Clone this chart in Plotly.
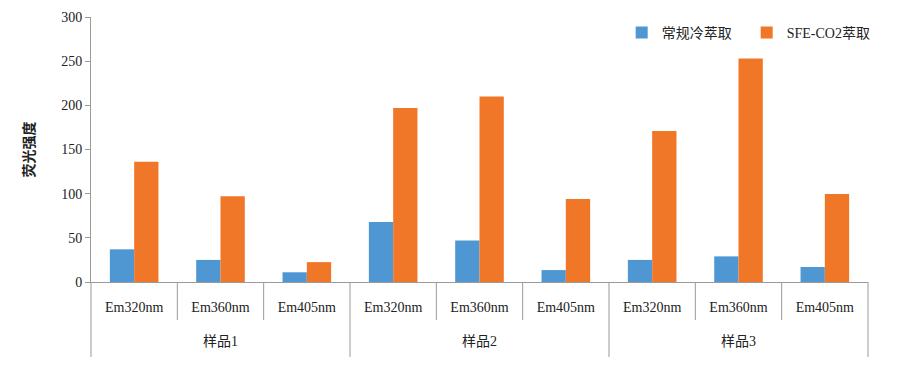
import plotly.graph_objects as go

samples = ["样品1", "样品2", "样品3"]
wavelengths = ["Em320nm", "Em360nm", "Em405nm"]
cold_extraction = [37, 25, 11, 68, 47, 13.5, 25, 29, 17]
sfe_co2 = [136, 97, 22.5, 197, 210, 94, 171, 253, 99.5]
series_names = ["常规冷萃取", "SFE-CO2萃取"]
y_ticks = [0, 50, 100, 150, 200, 250, 300]

categories = [f"{s} {w}" for s in samples for w in wavelengths]
cat_labels = [w for _ in samples for w in wavelengths]

FONT = "Liberation Serif, Noto Sans CJK SC, serif"
AX = "#9a9a9a"

fig = go.Figure()
fig.add_trace(go.Bar(x=categories, y=cold_extraction, name=series_names[0],
                     marker=dict(color="#4E97D3", line=dict(width=0))))
fig.add_trace(go.Bar(x=categories, y=sfe_co2, name=series_names[1],
                     marker=dict(color="#F07628", line=dict(width=0))))

# page body has an 8px margin, so figure is shifted by 8px
W, H = 912, 359
fig.update_layout(
    width=W, height=H,
    margin=dict(l=83, r=52, t=9, b=85, autoexpand=False),
    paper_bgcolor="white", plot_bgcolor="white",
    barmode="group", bargap=0.437, bargroupgap=0,
    font=dict(family=FONT, size=14, color="#222"),
    showlegend=True,
    legend=dict(orientation="h", x=0.683, y=0.94, xanchor="left", yanchor="middle",
                font=dict(size=14, family=FONT), itemwidth=30, entrywidth=80,
                bgcolor="rgba(0,0,0,0)"),
    xaxis=dict(type="category", tickvals=categories, ticktext=cat_labels,
               showline=True, linecolor=AX, linewidth=1,
               ticks="outside", ticklen=12, tickcolor="rgba(0,0,0,0)",
               showgrid=False, tickfont=dict(size=14, family=FONT),
               range=[-0.5, 8.5]),
    yaxis=dict(range=[0, 300], tickvals=y_ticks, showline=True, linecolor=AX,
               linewidth=1, ticks="outside", ticklen=5, tickcolor=AX,
               showgrid=False, zeroline=False,
               tickfont=dict(size=14, family=FONT),
               title=dict(text="<b>荧光强度</b>", font=dict(size=14, family=FONT), standoff=23)),
)

plot_h = H - 9 - 85
n = len(categories)
shapes = []
for i in range(n + 1):
    long = (i % len(wavelengths) == 0)
    depth = 75 if long else 38
    shapes.append(dict(type="line", xref="paper", yref="paper",
                       x0=i / n, x1=i / n, y0=0, y1=-depth / plot_h,
                       line=dict(color=AX, width=1)))
fig.update_layout(shapes=shapes)

for j, s in enumerate(samples):
    fig.add_annotation(x=categories[j * len(wavelengths) + 1], y=-59 / plot_h,
                       xref="x", yref="paper", text=s, showarrow=False,
                       font=dict(size=14, family=FONT), yanchor="middle")

fig.write_html("out.html")
